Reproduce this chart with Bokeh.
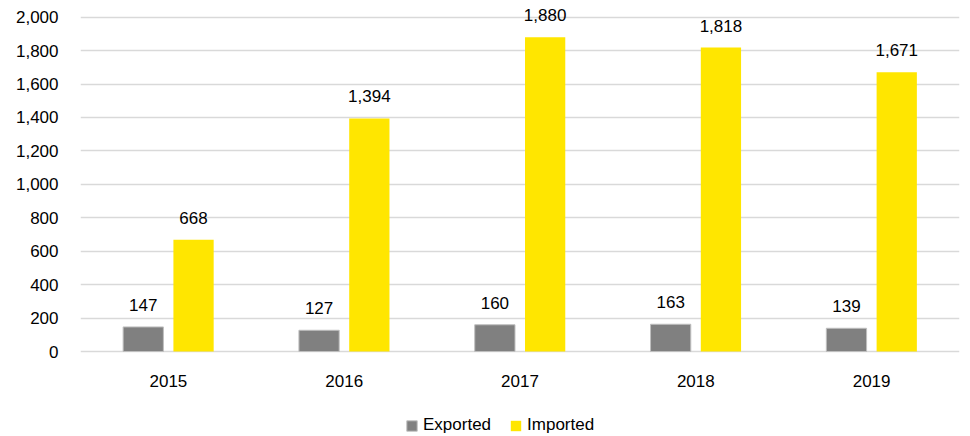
from bokeh.plotting import figure
from bokeh.models import ColumnDataSource, Range1d, FactorRange, Legend, LegendItem, NumeralTickFormatter, FixedTicker
from bokeh.transform import dodge
from bokeh.core.properties import value
from bokeh.embed import file_html
from bokeh.resources import INLINE

years = ["2015", "2016", "2017", "2018", "2019"]
exported = [147, 127, 160, 163, 139]
imported = [668, 1394, 1880, 1818, 1671]
y_ticks = [0, 200, 400, 600, 800, 1000, 1200, 1400, 1600, 1800, 2000]

FONT = "Liberation Sans"
FS = "17px"
GRAY = "#808080"
YELLOW = "#FFE600"

src = ColumnDataSource(dict(
    year=years,
    exp=exported,
    imp=imported,
    exp_lbl=[f"{v:,}" for v in exported],
    imp_lbl=[f"{v:,}" for v in imported],
    base=[0] * len(years),
))

H = 436
axis_y = 351          # pixel row of the zero line
top_y = 16.7          # pixel row of 2000
ppu = (axis_y - top_y) / 2000.0
y_start = -(H - axis_y) / ppu
y_end = axis_y / ppu

p = figure(x_range=FactorRange(*years), y_range=Range1d(y_start, y_end),
           width=966, height=H, output_backend="svg", toolbar_location=None,
           min_border_left=80, min_border_right=7, min_border_top=0, min_border_bottom=0)
p.outline_line_color = None
p.xaxis.visible = False

off = 0.143
w = 0.229
r1 = p.vbar(x=dodge("year", -off, range=p.x_range), top="exp", width=w, source=src,
            fill_color=GRAY, line_color="#bfbfbf", line_width=1)
r2 = p.vbar(x=dodge("year", off, range=p.x_range), top="imp", width=w, source=src,
            fill_color=YELLOW, line_color=None)

p.text(x=dodge("year", -off, range=p.x_range), y="exp", text="exp_lbl", source=src,
       text_align="center", text_baseline="middle", y_offset=-22,
       text_font=value(FONT), text_font_size=FS, text_color="#000000")
p.text(x=dodge("year", off, range=p.x_range), y="imp", text="imp_lbl", source=src,
       text_align="center", text_baseline="middle", y_offset=-22,
       text_font=value(FONT), text_font_size=FS, text_color="#000000")
# category labels under the zero line
p.text(x="year", y="base", text="year", source=src,
       text_align="center", text_baseline="middle", y_offset=29,
       text_font=value(FONT), text_font_size=FS, text_color="#000000")

p.xgrid.grid_line_color = None
p.ygrid.ticker = FixedTicker(ticks=y_ticks)
p.ygrid.grid_line_color = "#d9d9d9"
p.ygrid.grid_line_width = 1.5
p.yaxis.ticker = FixedTicker(ticks=y_ticks)
p.yaxis.formatter = NumeralTickFormatter(format="0,0")
p.yaxis.axis_line_color = None
p.yaxis.major_tick_line_color = None
p.yaxis.minor_tick_line_color = None
p.yaxis.major_label_standoff = 16
p.yaxis.major_label_text_font = FONT
p.yaxis.major_label_text_font_size = FS
p.yaxis.major_label_text_color = "#000000"

legend = Legend(items=[LegendItem(label="Exported", renderers=[r1]),
                       LegendItem(label="Imported", renderers=[r2])],
                orientation="horizontal", location=(325, 1),
                label_text_font=FONT, label_text_font_size=FS, label_text_color="#000000",
                glyph_width=13, glyph_height=13, spacing=18, padding=0, margin=0,
                label_standoff=5, border_line_color=None, background_fill_alpha=0)
p.add_layout(legend, "center")

open("out.html", "w").write(file_html(p, INLINE))
